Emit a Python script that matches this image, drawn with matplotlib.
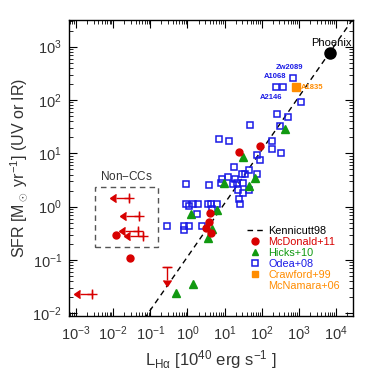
import matplotlib
matplotlib.use("Agg")
import matplotlib.pyplot as plt
import numpy as np
from matplotlib.lines import Line2D
from matplotlib.patches import Rectangle
from matplotlib.ticker import LogLocator, NullFormatter

# 字体设置
plt.rcParams["font.family"] = ["Liberation Sans", "DejaVu Sans"]
plt.rcParams["mathtext.fontset"] = "custom"
plt.rcParams["mathtext.rm"] = "Liberation Sans"
plt.rcParams["mathtext.it"] = "Liberation Sans:italic"
plt.rcParams["axes.unicode_minus"] = False

# ---- 数据 (log10 L_Halpha [1e40 erg/s], log10 SFR) ----
odea_logL = [2.85, 2.38, 2.58, 3.05, 2.40, 2.72, 1.69, 2.50, 0.86, 1.11,
             2.27, 2.27, 2.51, 1.88, 1.95, 1.26, 1.67, 1.46, 1.56, 1.88,
             1.08, 0.93, 0.91, 1.29, 1.34, 1.24, 1.49, 1.36, 1.49, 1.40,
             1.42, 1.66, -0.05, 0.57, -0.05, 0.05, 0.16, 0.28, 0.55, 0.64,
             0.79, 0.25, -0.56, -0.08, 0.05, -0.08, 0.38, 0.66]
odea_logSFR = [2.41, 2.25, 2.25, 1.96, 1.74, 1.69, 1.53, 1.51, 1.27, 1.23,
               1.24, 1.08, 1.00, 0.97, 0.87, 0.74, 0.68, 0.62, 0.62, 0.62,
               0.56, 0.52, 0.44, 0.52, 0.44, 0.42, 0.44, 0.31, 0.25, 0.14,
               0.05, 0.31, 0.42, 0.41, 0.05, 0.02, 0.05, 0.05, 0.05, 0.05,
               0.05, -0.14, -0.36, -0.36, -0.36, -0.44, -0.36, -0.05]

mcd_logL = [1.40, 1.96, 0.62, 0.57, 0.50, 0.64, -1.92, -1.54]
mcd_logSFR = [1.03, 1.14, -0.11, -0.28, -0.40, -0.49, -0.53, -0.97]

# McDonald+11 上限 (L_Halpha upper limits)
mcd_lim_logL = [-1.58, -1.31, -1.34, -1.20, -2.56]
mcd_lim_logSFR = [0.16, -0.17, -0.46, -0.55, -1.63]
# SFR upper limit
mcd_ylim_logL = [-0.55]
mcd_ylim_logSFR = [-1.13]

hicks_logL = [2.63, 1.49, 1.81, 0.99, 1.67, 0.10, 0.79, 0.66, 0.56, -0.32, 0.16]
hicks_logSFR = [1.45, 0.94, 0.53, 0.45, 0.39, -0.13, -0.06, -0.41, -0.59, -1.62, -1.45]

crawford_logL = [2.92]
crawford_logSFR = [2.24]

phoenix_logL = 3.85
phoenix_logSFR = 2.89

# Kennicutt98 关系 (SFR = k * L)
kennicutt_k = 0.115

# 名称标注
names = ["Zw2089", "A1068", "A2146"]
names_logL = [2.74, 2.37, 2.24]
names_logSFR = [2.61, 2.44, 2.04]

# 刻度
x_ticks = [1e-3, 1e-2, 1e-1, 1e0, 1e1, 1e2, 1e3, 1e4]
y_ticks = [1e-2, 1e-1, 1e0, 1e1, 1e2, 1e3]

red = "#d80000"
green = "#119911"
blue = "#1a1ae6"
orange = "#ff8c00"
txt = "#333333"

# 1- 创建画布
fig = plt.figure(figsize=(3.74, 3.74), dpi=100)
ax = fig.add_axes([0.1845, 0.155, 0.7595, 0.7915])
ax.set_xscale("log")
ax.set_yscale("log")

# 2- Kennicutt 虚线
lx = np.logspace(-3.19, 4.46, 50)
ax.plot(lx, kennicutt_k * lx, ls=(0, (4, 3)), color="k", lw=1.0)

# 3- 各数据点
ax.plot(10**np.array(odea_logL), 10**np.array(odea_logSFR), "s", mfc="none",
        mec=blue, mew=1.1, ms=4.5)
ax.plot(10**np.array(hicks_logL), 10**np.array(hicks_logSFR), "^", color=green, ms=6)
ax.plot(10**np.array(mcd_logL), 10**np.array(mcd_logSFR), "o", color=red, ms=5)
ax.plot(10**np.array(crawford_logL), 10**np.array(crawford_logSFR), "s", color=orange, ms=5.5)
ax.plot(10**phoenix_logL, 10**phoenix_logSFR, "o", color="k", ms=8)

# 上限箭头
lim_x = 10**np.array(mcd_lim_logL)
lim_y = 10**np.array(mcd_lim_logSFR)
ax.errorbar(lim_x, lim_y, xerr=0.55 * lim_x, xuplims=True, fmt="+", color=red,
            ms=7, mew=1.0, elinewidth=1.0, capsize=3)
ylx = 10**np.array(mcd_ylim_logL)
yly = 10**np.array(mcd_ylim_logSFR)
ax.errorbar(ylx, yly, yerr=0.44 * yly, uplims=True, fmt="_", color=red,
            ms=7, mew=1.0, elinewidth=1.0, capsize=3)

# Non-CCs 方框
ax.add_patch(Rectangle((10**-2.49, 10**-0.75), 10**-0.80 - 10**-2.49,
                       10**0.36 - 10**-0.75, fill=False, ls=(0, (4, 3)),
                       ec="#555555", lw=1.0))
ax.text(10**-1.64, 10**0.56, "Non$-$CCs", ha="center", va="center",
        fontsize=8.5, color=txt)

# 文字标注
ax.text(10**3.87, 10**3.07, "Phoenix", ha="center", va="center", fontsize=8, color="k")
for n, lx_, ly_ in zip(names, names_logL, names_logSFR):
    ax.text(10**lx_, 10**ly_, n, ha="center", va="center", fontsize=5.5,
            color=blue, fontweight="bold")
ax.text(10**3.06, 10**2.23, "A1835", ha="left", va="center", fontsize=5.5,
        color=orange, fontweight="bold")

# 4- 图例
handles = [
    Line2D([], [], color="k", ls=(0, (4, 3)), lw=1.0),
    Line2D([], [], marker="o", color=red, ls="none", ms=5),
    Line2D([], [], marker="^", color=green, ls="none", ms=5),
    Line2D([], [], marker="s", mfc="none", mec=blue, mew=1.1, ls="none", ms=4),
    Line2D([], [], marker="s", color=orange, ls="none", ms=4),
    Line2D([], [], ls="none"),
]
labels = ["Kennicutt98", "McDonald+11", "Hicks+10", "Odea+08", "Crawford+99", "McNamara+06"]
ax.legend(handles, labels, loc="upper left", bbox_to_anchor=(0.6, 0.33),
          frameon=False, fontsize=7.8, handlelength=1.5, handletextpad=0.45,
          labelspacing=0.1, borderpad=0.2,
          labelcolor=["k", red, green, blue, orange, orange])

# 5- 坐标轴
ax.set_xticks(x_ticks)
ax.set_yticks(y_ticks)
for axis in (ax.xaxis, ax.yaxis):
    axis.set_minor_locator(LogLocator(base=10, subs=np.arange(2, 10), numticks=20))
    axis.set_minor_formatter(NullFormatter())
ax.set_xlim(10**-3.19, 10**4.46)
ax.set_ylim(10**-2.05, 10**3.5)
ax.tick_params(which="both", direction="in", top=True, right=True,
               labelsize=10.5, colors="k", labelcolor=txt)
ax.tick_params(which="major", length=6, width=0.8, pad=5)
ax.tick_params(which="minor", length=3, width=0.6)
ax.tick_params(axis="x", which="major", pad=6)
for s in ax.spines.values():
    s.set_linewidth(1.0)

ax.set_xlabel(r"L$_{\rm H\alpha}$ [10$^{40}$ erg s$^{-1}$ ]", fontsize=12, color=txt, labelpad=4)
ax.set_ylabel(r"SFR [M$_\odot$ yr$^{-1}$] (UV or IR)", fontsize=11.5, color=txt, labelpad=2)

fig.savefig("out.png", dpi=100)
